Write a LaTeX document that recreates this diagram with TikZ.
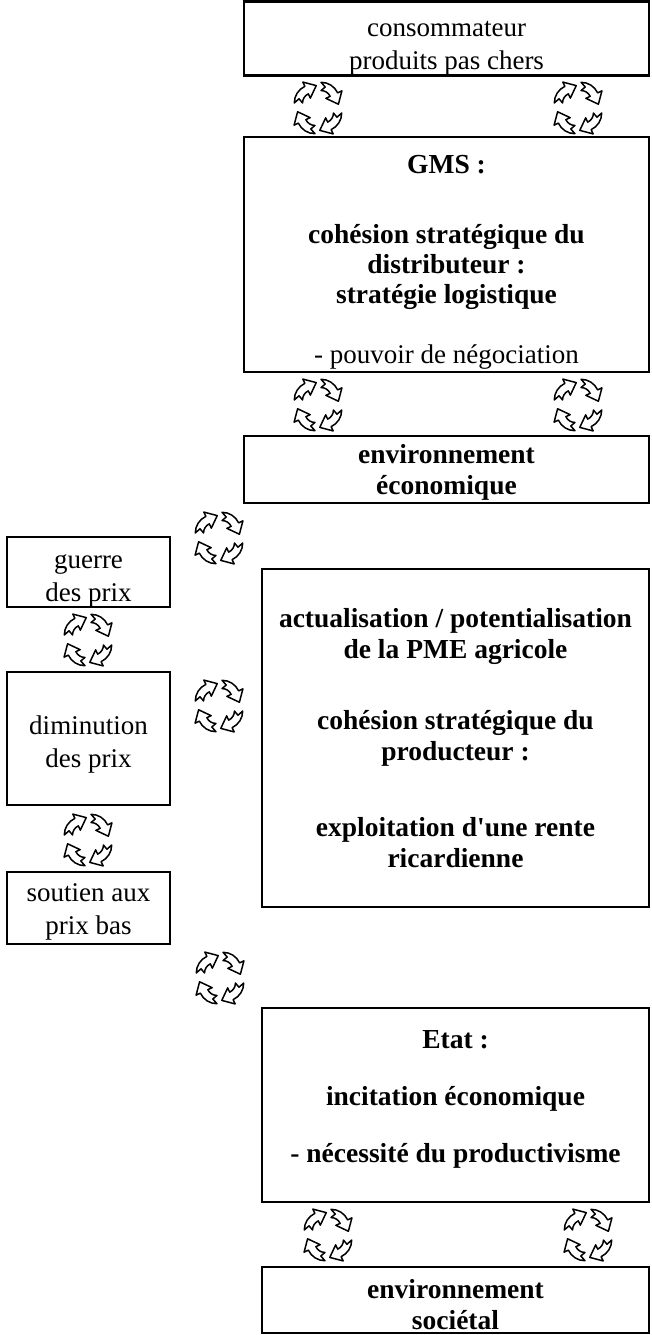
\documentclass[tikz,border=0pt]{standalone}
\usepackage{fontspec}
\setmainfont{Liberation Serif}
\newcommand\myup[1]{\rule{0pt}{#1}}
\newcommand\mydn[1]{\rule[-#1]{0pt}{0pt}}
\begin{document}
\begin{tikzpicture}[x=1bp,y=-1bp,
  box/.style={draw, line width=2.5bp, align=center, inner sep=0pt,
    font=\fontsize{27bp}{33bp}\selectfont},
  bbox/.style={box, font=\fontsize{27.5bp}{31bp}\selectfont\bfseries},
  mbox/.style={box, font=\fontsize{27bp}{30bp}\selectfont},
  arr/.pic={\draw[line width=1.5bp, fill=white, line join=round, scale=1.18]
    (-9.5,8) arc[start angle=180, end angle=245, radius=15.5]
    -- (-2.24,-9.67) -- (9.08,-6.69) -- (4.10,3.92) -- (2.41,0.30)
    arc[start angle=245, end angle=180, radius=8.5]
    -- (-5.48,4.49) -- cycle;},
  cyc/.pic={
    \pic at (-12.5,-14.5) {arr};
    \pic[rotate=-90]  at (12.5,-14.5) {arr};
    \pic[rotate=-180] at (12.5,14.5)  {arr};
    \pic[rotate=90]   at (-12.5,14.5) {arr};
  }]
\useasboundingbox (0,0) rectangle (652,1335);

% right column
\node[box, minimum width=405bp, minimum height=67bp] (cons) at (446.5,38.5)
  {\myup{35bp}consommateur\\produits pas chers};
\node[mbox, minimum width=405bp, minimum height=235bp] (gms) at (446.5,254.5)
  {\myup{33bp}\textbf{\fontsize{27.5bp}{30bp}\selectfont GMS :}\\[40bp]%
   \textbf{\fontsize{27.5bp}{30bp}\selectfont cohésion stratégique du}\\%
   \textbf{\fontsize{27.5bp}{30bp}\selectfont distributeur :}\\%
   \textbf{\fontsize{27.5bp}{30bp}\selectfont stratégie logistique}\\[30bp]%
   - pouvoir de négociation};
\node[bbox, minimum width=405bp, minimum height=67bp] (eco) at (446.5,469.5)
  {\myup{24bp}environnement\\économique};
\node[bbox, minimum width=387bp, minimum height=338bp] (pme) at (455.5,738)
  {actualisation / potentialisation\\de la PME agricole\\[40bp]
   cohésion stratégique du\\producteur :\\[45bp]
   exploitation d\textquotesingle une rente\\ricardienne};
\node[bbox, minimum width=387bp, minimum height=194bp] (etat) at (455.5,1105)
  {Etat :\\[26bp]incitation économique\\[26bp]- nécessité du productivisme\mydn{18bp}};
\node[bbox, minimum width=387bp, minimum height=66bp] (soc) at (455.5,1300)
  {\myup{28bp}environnement\\sociétal};

% left column
\node[box, minimum width=163bp, minimum height=70bp] (guerre) at (88.5,572)
  {\myup{31bp}guerre\\des prix};
\node[box, minimum width=163bp, minimum height=133bp] (dimin) at (88.5,738.5)
  {\myup{30bp}diminution\\des prix};
\node[box, minimum width=163bp, minimum height=72bp] (soutien) at (88.5,908)
  {\myup{26bp}soutien aux\\prix bas};

% cycle symbols
\pic at (318,108)  {cyc};
\pic at (578,108)  {cyc};
\pic at (318,405)  {cyc};
\pic at (578,405)  {cyc};
\pic at (219,538)  {cyc};
\pic at (88,640)   {cyc};
\pic at (219,706)  {cyc};
\pic at (88,840)   {cyc};
\pic at (220,978)  {cyc};
\pic at (328,1235) {cyc};
\pic at (588,1235) {cyc};
\end{tikzpicture}
\end{document}
